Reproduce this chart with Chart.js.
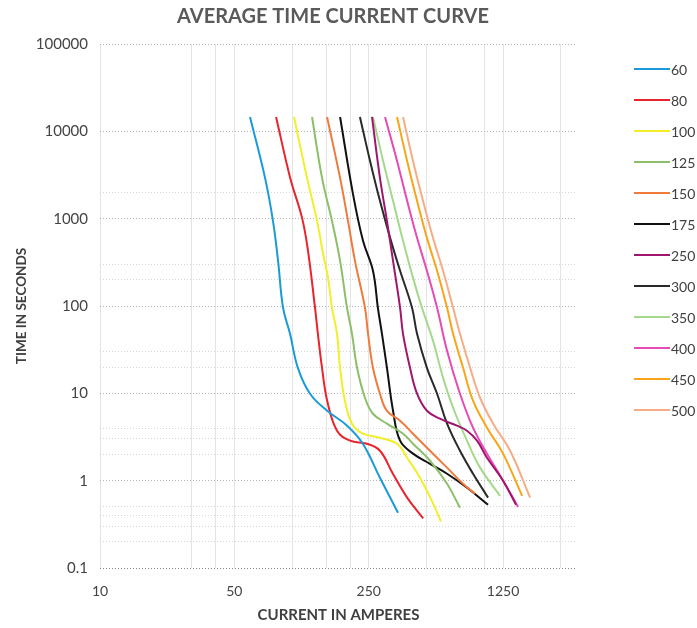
<!DOCTYPE html>
<html>
<head>
<meta charset="utf-8">
<script src="https://cdn.jsdelivr.net/npm/chart.js@4.4.0/dist/chart.umd.min.js"></script>
<style>
  html, body { margin: 0; padding: 0; background: #ffffff; }
  #wrap { width: 697px; height: 628px; }
</style>
</head>
<body>
<div id="wrap"><canvas id="c" width="697" height="628"></canvas></div>
<script>
// ---- Data ----
const chartTitle = 'AVERAGE TIME CURRENT CURVE';
const xTitle = 'CURRENT IN AMPERES';
const yTitle = 'TIME IN SECONDS';

const seriesLabels = ['60', '80', '100', '125', '150', '175', '250', '300', '350', '400', '450', '500'];
const seriesColors = ['#1a9bd7', '#e8242c', '#f2ee2a', '#8dbf6a', '#f07a3c', '#111111',
                      '#a0166e', '#2a2a2a', '#a4d98c', '#e64bb6', '#f9a51a', '#f6ad86'];

const amps60  = [60.3, 72.2, 79.4, 84.4, 89.6, 97.4, 107, 123.8, 152, 193, 233, 286, 355];
const secs60  = [14600, 2930, 944, 329, 95.4, 48.1, 19.6, 9.9, 6.32, 4.26, 2.65, 1.08, 0.43];

const amps80  = [82.4, 97.6, 112.5, 120.8, 131.4, 136, 142.9, 152, 171, 200, 245, 286, 334, 396, 480];
const secs80  = [14600, 2930, 1021, 428, 95.4, 48, 19.6, 8.23, 3.73, 2.87, 2.65, 2.2, 1.2, 0.64, 0.37];

const amps100 = [102.2, 119.4, 134.6, 144.7, 153.6, 161, 171, 177.3, 188, 204.7, 233.5, 286, 351, 396, 462, 540, 594];
const secs100 = [14600, 2930, 944, 396, 210, 95.4, 48, 19.6, 8.23, 4.49, 3.45, 3.1, 2.65, 1.83, 1.08, 0.55, 0.34];

const amps125 = [126.8, 142.9, 161, 177.4, 192.8, 204.7, 217.4, 239, 263, 311, 377, 425, 521, 639, 746];
const secs125 = [14600, 2930, 944, 329, 95.4, 48, 19.6, 8.9, 5.84, 4.49, 3.45, 2.65, 1.69, 0.92, 0.49];

const amps150 = [151.8, 177.4, 195, 212, 239, 248, 263, 286, 311, 364, 425, 521, 639, 774, 894];
const secs150 = [14600, 2930, 944, 329, 95.4, 48, 19.6, 9.9, 6.3, 4.86, 3.45, 2.2, 1.41, 0.92, 0.71];

const amps175 = [177.4, 207, 233.5, 263, 279, 293, 311, 334.5, 364, 425, 521, 639, 812, 1044];
const secs175 = [14600, 1923, 557, 253, 95.4, 48, 19.6, 6.32, 2.87, 2.04, 1.56, 1.2, 0.83, 0.53];

const amps250 = [260, 286, 311, 334.5, 364, 377, 410, 446, 502, 587, 719, 811, 915, 1031, 1250, 1460];
const secs250 = [14600, 2930, 944, 329, 95.4, 48, 19.6, 9.9, 6.32, 5.12, 4.26, 3.73, 2.87, 1.83, 1.0, 0.53];

const amps300 = [225, 254, 286, 323, 364, 420, 446, 502, 567, 639, 746, 872, 1044];
const secs300 = [14600, 4585, 1600, 603, 253, 95.4, 48, 19.6, 9.9, 4.49, 2.2, 1.2, 0.64];

const amps350 = [263, 297, 334.5, 377, 425, 473, 540, 609, 687, 811, 949, 1205];
const secs350 = [14600, 4585, 1600, 557, 210, 95.4, 40, 15.1, 6.84, 2.87, 1.41, 0.67];

const amps400 = [304, 351, 396, 446, 502, 567, 639, 746, 872, 1031, 1250, 1496];
const secs400 = [14600, 4585, 1600, 603, 253, 95.4, 30.7, 9.9, 4.04, 2.04, 1.0, 0.5];

const amps450 = [351, 396, 446, 502, 567, 639, 687, 774, 872, 1031, 1250, 1570];
const secs450 = [14600, 4585, 1600, 603, 253, 95.4, 48, 19.6, 8.23, 4.04, 2.04, 0.67];

const amps500 = [377, 425, 479, 540, 609, 687, 746, 842, 949, 1110, 1360, 1727];
const secs500 = [14600, 4585, 1600, 603, 253, 95.4, 48, 19.6, 8.9, 4.49, 2.2, 0.64];

const xTickValues = [10, 30, 40, 50, 100, 150, 200, 250, 500, 1000, 1250, 2500];
const xTickLabels = [10, 50, 250, 1250];
const yTickValues = [0.1, 0.2, 0.3, 0.4, 0.5, 1, 2, 3, 4, 10, 20, 30,
                     100, 200, 300, 1000, 2000, 10000, 100000];
const yTickLabels = [0.1, 1, 10, 100, 1000, 10000, 100000];

// ---- Build datasets ----
const ampsAll = [amps60, amps80, amps100, amps125, amps150, amps175, amps250, amps300, amps350, amps400, amps450, amps500];
const secsAll = [secs60, secs80, secs100, secs125, secs150, secs175, secs250, secs300, secs350, secs400, secs450, secs500];

const datasets = seriesLabels.map((lab, i) => ({
  label: lab,
  data: ampsAll[i].map((a, j) => ({ x: a, y: secsAll[i][j] })),
  borderColor: seriesColors[i],
  backgroundColor: seriesColors[i],
  borderWidth: 2,
  pointRadius: 0,
  showLine: true,
  tension: 0.4,
  fill: false
}));

const FONT = 'Lato, "Open Sans", "DejaVu Sans", sans-serif';

const titleAndLegend = {
  id: 'titleAndLegend',
  afterDraw(chart) {
    const ctx = chart.ctx;
    ctx.save();
    // title
    ctx.fillStyle = '#5a5a5a';
    ctx.font = 'bold 20px ' + FONT;
    ctx.textAlign = 'center';
    ctx.textBaseline = 'middle';
    ctx.fillText(chartTitle, 333, 17);
    // legend
    ctx.font = '14px ' + FONT;
    ctx.textAlign = 'left';
    chart.data.datasets.forEach((ds, i) => {
      const y = 69 + i * 31;
      ctx.strokeStyle = ds.borderColor;
      ctx.lineWidth = 2;
      ctx.beginPath();
      ctx.moveTo(634, y);
      ctx.lineTo(670, y);
      ctx.stroke();
      ctx.fillStyle = '#404040';
      ctx.fillText(ds.label, 671, y + 1);
    });
    ctx.restore();
  }
};

new Chart(document.getElementById('c'), {
  type: 'scatter',
  data: { datasets },
  options: {
    responsive: false,
    animation: false,
    layout: { padding: { top: 44, left: 0, right: 120, bottom: 0 } },
    plugins: {
      legend: { display: false },
      title: { display: false },
      tooltip: { enabled: false }
    },
    scales: {
      x: {
        type: 'logarithmic',
        min: 10,
        max: 3030,
        afterBuildTicks: (s) => { s.ticks = xTickValues.map(v => ({ value: v })); },
        afterFit: (s) => { s.height = 60; },
        ticks: {
          autoSkip: false,
          maxRotation: 0,
          padding: 15,
          color: '#444444',
          font: { family: FONT, size: 14 },
          callback: (v) => xTickLabels.includes(v) ? String(v) : ''
        },
        grid: {
          drawTicks: false,
          color: '#e4e4e4',
          lineWidth: 1
        },
        border: { display: false },
        title: {
          display: true,
          text: xTitle,
          color: '#404040',
          font: { family: FONT, size: 15, weight: 'bold' },
          padding: { top: 0, bottom: 4 }
        }
      },
      y: {
        type: 'logarithmic',
        min: 0.1,
        max: 100000,
        afterBuildTicks: (s) => { s.ticks = yTickValues.map(v => ({ value: v })); },
        afterFit: (s) => { s.width = 100; },
        ticks: {
          autoSkip: false,
          padding: 12,
          color: '#444444',
          font: { family: FONT, size: 15 },
          callback: (v) => yTickLabels.includes(v) ? String(v) : ''
        },
        grid: {
          drawTicks: false,
          lineWidth: 1,
          color: (c) => {
            const v = c.tick ? c.tick.value : 0;
            if (v === 0.1) return '#8a8a8a';
            return yTickLabels.includes(v) ? '#b5b5b5' : '#d6d6d6';
          }
        },
        border: { display: false, dash: [1, 2] },
        title: {
          display: true,
          text: yTitle,
          color: '#404040',
          font: { family: FONT, size: 13.5, weight: 'bold' },
          padding: { top: 14, bottom: 0 }
        }
      }
    }
  },
  plugins: [titleAndLegend]
});
</script>
</body>
</html>
